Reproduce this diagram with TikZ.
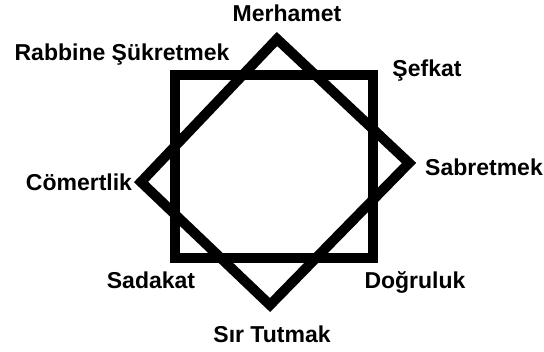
\documentclass[tikz,border=0pt]{standalone}
\usepackage{fontspec}
\setmainfont{Liberation Sans}
\begin{document}
\begin{tikzpicture}[x=1pt,y=-1pt,
  shapeline/.style={draw=black,line width=10pt,line join=miter,miter limit=10},
  lbl/.style={anchor=base,inner sep=0pt,font=\fontsize{23}{27}\selectfont\bfseries}]
\useasboundingbox[fill=white] (0,0) rectangle (544,352);
% square
\draw[shapeline] (175,75) rectangle (373,258);
% diamond
\draw[shapeline] (277,39) -- (409,163) -- (270,305) -- (141,182) -- cycle;
% labels
\node[lbl] (merhamet) at (287,22) {Merhamet};
\node[lbl] (rabbine) at (122,61) {Rabbine Şükretmek};
\node[lbl] (sefkat) at (427,77) {Şefkat};
\node[lbl] (sabretmek) at (484,176) {Sabretmek};
\node[lbl] (comertlik) at (79,191) {Cömertlik};
\node[lbl] (sadakat) at (151,289) {Sadakat};
\node[lbl] (dogruluk) at (415,289) {Doğruluk};
\node[lbl] (sirtutmak) at (272,343) {Sır Tutmak};
\end{tikzpicture}
\end{document}
